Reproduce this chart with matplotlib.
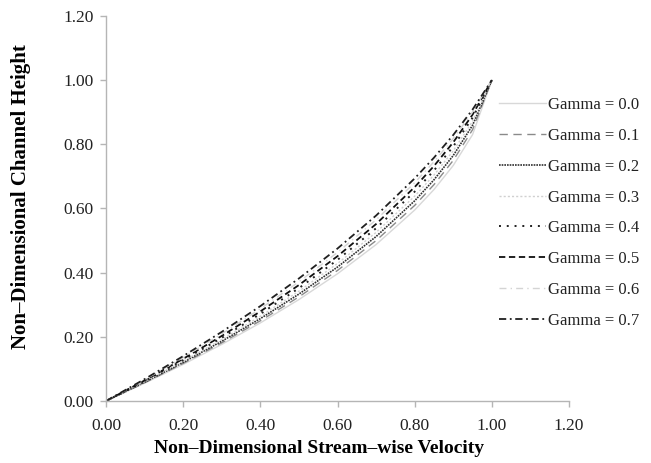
import matplotlib
matplotlib.use("Agg")
import matplotlib.pyplot as plt

u = [0.0, 0.1, 0.2, 0.3, 0.4, 0.5, 0.6, 0.7, 0.8, 0.85, 0.9, 0.95, 1.0]

y_g00 = [0.0, 0.0555, 0.1141, 0.1765, 0.2434, 0.3162, 0.3966, 0.4876, 0.5952, 0.6590, 0.7341, 0.8301, 1.0]
y_g01 = [0.0, 0.0570, 0.1172, 0.1813, 0.2500, 0.3246, 0.4069, 0.5000, 0.6096, 0.6743, 0.7500, 0.8455, 1.0]
y_g02 = [0.0, 0.0586, 0.1205, 0.1863, 0.2568, 0.3333, 0.4176, 0.5126, 0.6240, 0.6894, 0.7653, 0.8593, 1.0]
y_g03 = [0.0, 0.0603, 0.1240, 0.1916, 0.2640, 0.3424, 0.4286, 0.5255, 0.6384, 0.7042, 0.7798, 0.8717, 1.0]
y_g04 = [0.0, 0.0621, 0.1276, 0.1971, 0.2715, 0.3518, 0.4399, 0.5385, 0.6526, 0.7185, 0.7935, 0.8827, 1.0]
y_g05 = [0.0, 0.0640, 0.1315, 0.2029, 0.2792, 0.3615, 0.4514, 0.5516, 0.6667, 0.7324, 0.8063, 0.8924, 1.0]
y_g06 = [0.0, 0.0661, 0.1356, 0.2091, 0.2874, 0.3716, 0.4632, 0.5648, 0.6804, 0.7457, 0.8182, 0.9009, 1.0]
y_g07 = [0.0, 0.0682, 0.1399, 0.2155, 0.2958, 0.3820, 0.4753, 0.5780, 0.6938, 0.7584, 0.8292, 0.9084, 1.0]

labels = ["Gamma = 0.0", "Gamma = 0.1", "Gamma = 0.2", "Gamma = 0.3",
          "Gamma = 0.4", "Gamma = 0.5", "Gamma = 0.6", "Gamma = 0.7"]
series = [y_g00, y_g01, y_g02, y_g03, y_g04, y_g05, y_g06, y_g07]

styles = [
    dict(color="#d8d8d8", linestyle="-", linewidth=1.0),
    dict(color="#8a8a8a", linestyle=(0, (6, 4)), linewidth=1.0),
    dict(color="#303030", linestyle=(0, (1, 0.6)), linewidth=1.2),
    dict(color="#d0d0d0", linestyle=(0, (1.5, 1.5)), linewidth=1.0),
    dict(color="#202020", linestyle=(0, (1, 3)), linewidth=1.4),
    dict(color="#101010", linestyle=(0, (3.5, 2)), linewidth=1.3),
    dict(color="#d4d4d4", linestyle=(0, (5, 3, 1, 3)), linewidth=1.0),
    dict(color="#202020", linestyle=(0, (4, 2, 1, 2)), linewidth=1.3),
]

plt.rcParams["font.family"] = ["Liberation Serif", "DejaVu Serif"]

fig = plt.figure(figsize=(6.51, 4.63), dpi=100)
ax = fig.add_axes([0.163, 0.134, 0.711, 0.8314])

for ys, lab, st in zip(series, labels, styles):
    ax.plot(u, ys, label=lab, **st)

ax.set_xlim(0, 1.2)
ax.set_ylim(0, 1.2)
ticks = [0.0, 0.2, 0.4, 0.6, 0.8, 1.0, 1.2]
ax.set_xticks(ticks)
ax.set_yticks(ticks)
ax.set_xticklabels([f"{t:.2f}" for t in ticks])
ax.set_yticklabels([f"{t:.2f}" for t in ticks])

for side in ["top", "right"]:
    ax.spines[side].set_visible(False)
for side in ["left", "bottom"]:
    ax.spines[side].set_color("#b5b5b5")
    ax.spines[side].set_linewidth(1.0)
ax.tick_params(axis="both", direction="out", length=4, width=1.0,
               color="#b5b5b5", labelsize=12.5, labelcolor="#222222", pad=5)
ax.tick_params(axis="x", pad=8)

ax.set_xlabel("Non\u2013Dimensional Stream\u2013wise Velocity", fontsize=14,
              fontweight="bold")
ax.set_ylabel("Non\u2013Dimensional Channel Height", fontsize=15,
              fontweight="bold")
ax.xaxis.set_label_coords(0.46, -0.102)
ax.yaxis.set_label_coords(-0.163, 0.531)

leg = ax.legend(loc="upper left", bbox_to_anchor=(499 / 651, 1 - 97 / 463),
                bbox_transform=fig.transFigure, frameon=False,
                fontsize=12, handlelength=2.8, handletextpad=0.15,
                labelspacing=0.89, borderpad=0, borderaxespad=0)
for t in leg.get_texts():
    t.set_color("#222222")

fig.savefig("out.png", dpi=100)
